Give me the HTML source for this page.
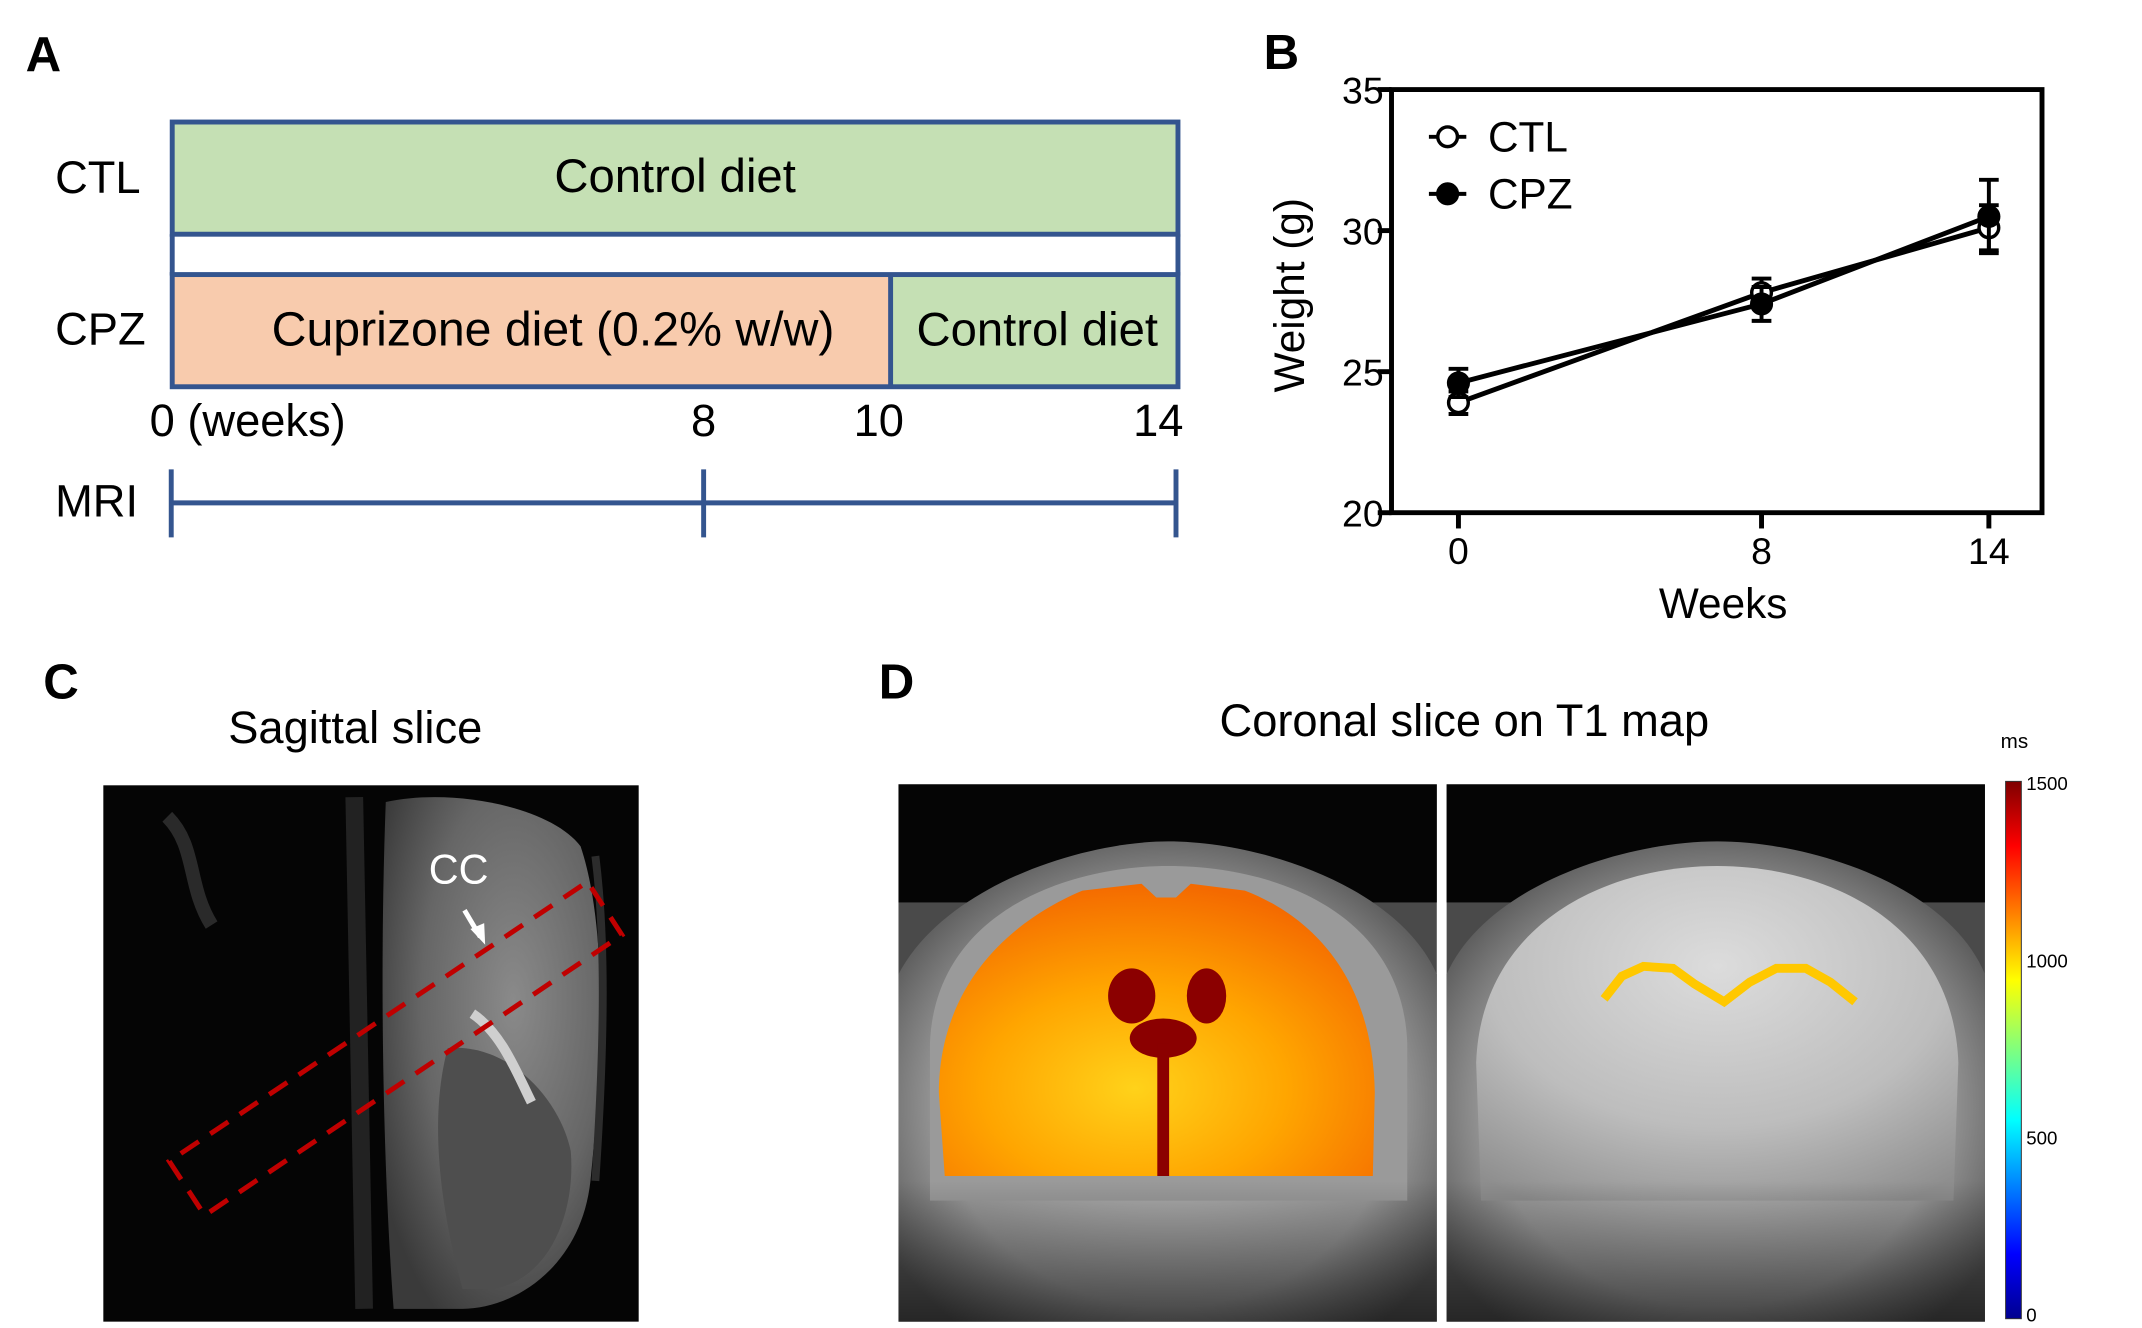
<!DOCTYPE html>
<html><head><meta charset="utf-8"><style>
html,body{margin:0;padding:0;background:#fff;}
#root{position:relative;width:2142px;height:1328px;overflow:hidden;font-family:"Liberation Sans",Arial,sans-serif;}
svg text{font-family:"Liberation Sans",Arial,sans-serif;}
</style></head><body>
<div id="root">
<svg width="2142" height="1328" viewBox="0 0 2142 1328" xmlns="http://www.w3.org/2000/svg">
<defs>
<linearGradient id="jet" x1="0" y1="1" x2="0" y2="0">
<stop offset="0" stop-color="#00008f"/><stop offset="0.12" stop-color="#0000ff"/><stop offset="0.37" stop-color="#00ffff"/><stop offset="0.5" stop-color="#7fff7f"/><stop offset="0.63" stop-color="#ffff00"/><stop offset="0.88" stop-color="#ff0000"/><stop offset="1" stop-color="#7f0000"/>
</linearGradient>
<radialGradient id="sagBrain" cx="0.6" cy="0.4" r="0.7"><stop offset="0" stop-color="#8a8a8a"/><stop offset="0.6" stop-color="#666"/><stop offset="1" stop-color="#3a3a3a"/></radialGradient>
<radialGradient id="corHead" cx="0.5" cy="0.55" r="0.6"><stop offset="0" stop-color="#b8b8b8"/><stop offset="0.7" stop-color="#999"/><stop offset="1" stop-color="#555"/></radialGradient>
<radialGradient id="corBrain" cx="0.5" cy="0.3" r="0.8"><stop offset="0" stop-color="#dcdcdc"/><stop offset="0.6" stop-color="#bdbdbd"/><stop offset="1" stop-color="#8e8e8e"/></radialGradient>
<radialGradient id="orangeMap" cx="0.45" cy="0.7" r="0.7"><stop offset="0" stop-color="#ffd21a"/><stop offset="0.5" stop-color="#ffa500"/><stop offset="1" stop-color="#f46a00"/></radialGradient>
<linearGradient id="lowerDark" x1="0" y1="0" x2="0" y2="1"><stop offset="0" stop-color="#000" stop-opacity="0"/><stop offset="1" stop-color="#000" stop-opacity="0.55"/></linearGradient>
</defs>
<g transform="scale(0.9841)">

<!-- Panel A -->
<text x="26" y="72" font-size="50" font-weight="bold">A</text>
<g>
<rect x="175" y="124" width="1022" height="114" fill="#c5e0b4" stroke="#34558f" stroke-width="5"/>
<line x1="175" y1="238" x2="175" y2="280" stroke="#34558f" stroke-width="5"/>
<line x1="1197" y1="238" x2="1197" y2="280" stroke="#34558f" stroke-width="5"/>
<rect x="175" y="279" width="729" height="114" fill="#f8cbad"/>
<rect x="904" y="279" width="293" height="114" fill="#c5e0b4"/>
<rect x="175" y="279" width="1022" height="114" fill="none" stroke="#34558f" stroke-width="5"/>
<line x1="905" y1="279" x2="905" y2="393" stroke="#34558f" stroke-width="5"/>
<text x="686" y="195" font-size="48" text-anchor="middle">Control diet</text>
<text x="56" y="196" font-size="46">CTL</text>
<text x="56" y="350" font-size="46">CPZ</text>
<text x="562" y="351" font-size="49" text-anchor="middle">Cuprizone diet (0.2% w/w)</text>
<text x="1054" y="351" font-size="48" text-anchor="middle">Control diet</text>
<text x="152" y="443" font-size="46">0 (weeks)</text>
<text x="715" y="443" font-size="46" text-anchor="middle">8</text>
<text x="893" y="443" font-size="46" text-anchor="middle">10</text>
<text x="1177" y="443" font-size="46" text-anchor="middle">14</text>
<text x="56" y="525" font-size="46">MRI</text>
<g stroke="#34558f" stroke-width="5">
<line x1="174" y1="511" x2="1197" y2="511"/>
<line x1="174" y1="477" x2="174" y2="546"/>
<line x1="715" y1="477" x2="715" y2="546"/>
<line x1="1195" y1="477" x2="1195" y2="546"/>
</g>
</g>

<!-- Panel B -->
<text x="1284" y="70" font-size="50" font-weight="bold">B</text>
<g id="chartB"></g>

<!-- Panel C -->
<text x="44" y="710" font-size="50" font-weight="bold">C</text>
<text x="361" y="755" font-size="46" text-anchor="middle">Sagittal slice</text>
<g>
<rect x="105" y="798" width="544" height="545" fill="#050505"/>
<path d="M170 830 C200 860 190 900 215 940" stroke="#2a2a2a" stroke-width="14" fill="none"/>
<path d="M360 810 L370 1330" stroke="#222" stroke-width="18" fill="none"/>
<path d="M392 815 C460 800 560 820 590 860 C620 950 610 1100 600 1200 C590 1290 520 1330 470 1330 L400 1330 C390 1200 385 1000 392 815Z" fill="url(#sagBrain)"/>
<path d="M455 1065 C520 1060 570 1120 580 1170 C585 1230 560 1300 500 1310 L470 1310 C440 1200 440 1120 455 1065Z" fill="#4e4e4e"/>
<path d="M480 1030 C510 1050 525 1090 540 1120" stroke="#cfcfcf" stroke-width="10" fill="none"/>
<path d="M605 870 C615 950 615 1050 605 1200" stroke="#2c2c2c" stroke-width="8" fill="none"/>
<polygon points="172,1180 208,1235 632,950 597,896" fill="none" stroke="#c00000" stroke-width="5" stroke-dasharray="22,14"/>
<text x="466" y="898" font-size="42" fill="#fff" text-anchor="middle">CC</text>
<line x1="472" y1="925" x2="488" y2="952" stroke="#fff" stroke-width="5"/>
<polygon points="493,960 478,944 492,938" fill="#fff"/>
</g>

<!-- Panel D -->
<text x="893" y="710" font-size="50" font-weight="bold">D</text>
<text x="1488" y="748" font-size="46" text-anchor="middle">Coronal slice on T1 map</text>
<text x="2047" y="760" font-size="21" text-anchor="middle">ms</text>
<g>
<rect x="913" y="797" width="547" height="546" fill="#4a4a4a"/>
<rect x="913" y="797" width="547" height="120" fill="#050505"/>
<path d="M913 990 C960 900 1100 855 1187 855 C1280 855 1420 900 1460 990 L1460 1343 L913 1343Z" fill="url(#corHead)"/>
<path d="M945 1060 C950 930 1080 880 1187 880 C1300 880 1425 930 1430 1060 L1430 1220 L945 1220Z" fill="#9a9a9a"/>
<rect x="913" y="1200" width="547" height="143" fill="url(#lowerDark)"/>
<path d="M954 1110 C955 990 1040 930 1100 905 L1160 898 L1175 912 L1195 912 L1210 898 L1265 905 C1330 930 1395 990 1397 1110 L1395 1195 L960 1195Z" fill="url(#orangeMap)"/>
<ellipse cx="1150" cy="1012" rx="24" ry="28" fill="#8b0000"/>
<ellipse cx="1226" cy="1012" rx="20" ry="28" fill="#8b0000"/>
<ellipse cx="1182" cy="1055" rx="34" ry="20" fill="#8b0000"/>
<rect x="1176" y="1060" width="12" height="135" fill="#8b0000"/>
</g>
<g>
<rect x="1470" y="797" width="547" height="546" fill="#4a4a4a"/>
<rect x="1470" y="797" width="547" height="120" fill="#050505"/>
<path d="M1470 990 C1510 900 1650 855 1745 855 C1840 855 1980 900 2017 990 L2017 1343 L1470 1343Z" fill="url(#corHead)"/>
<path d="M1500 1080 C1505 940 1630 880 1745 880 C1860 880 1985 940 1990 1080 L1985 1220 L1505 1220Z" fill="url(#corBrain)"/>
<rect x="1470" y="1200" width="547" height="143" fill="url(#lowerDark)"/>
<polyline points="1630,1015 1648,992 1670,982 1700,984 1722,1000 1752,1018 1778,998 1805,984 1835,984 1860,998 1885,1018" fill="none" stroke="#ffc800" stroke-width="9"/>
</g>
<g>
<rect x="2038" y="794" width="16" height="546" fill="url(#jet)" stroke="#333" stroke-width="1"/>
<text x="2059" y="803" font-size="19">1500</text>
<text x="2059" y="983" font-size="19">1000</text>
<text x="2059" y="1163" font-size="19">500</text>
<text x="2059" y="1343" font-size="19">0</text>
</g>
</g>
</svg>
</div>
<script>
const weeks = [0, 8, 14];
const ctlMean = [23.9, 27.8, 30.1];
const ctlErr = [0.4, 0.5, 0.8];
const cpzMean = [24.6, 27.4, 30.5];
const cpzErr = [0.5, 0.6, 1.3];
const yTicks = [20, 25, 30, 35];
const xTicks = [0, 8, 14];

(function(){
  const NS = 'http://www.w3.org/2000/svg';
  const g = document.getElementById('chartB');
  const L = 1414, R = 2075, T = 91, B = 521;
  const xs = v => 1482 + (v - 0) * (2021 - 1482) / 14;
  const ys = v => B - (v - 20) * (B - T) / 15;
  function mk(tag, attrs, parent){
    const e = document.createElementNS(NS, tag);
    for (const k in attrs) e.setAttribute(k, attrs[k]);
    (parent || g).appendChild(e);
    return e;
  }
  const frame = mk('path', {d:`M${L} ${T} H${R} V${B} H${L} Z`, fill:'none', stroke:'#000', 'stroke-width':5});
  
  
  yTicks.forEach(v => {
    mk('line', {x1:L-14, x2:L, y1:ys(v), y2:ys(v), stroke:'#000', 'stroke-width':5});
    const t = mk('text', {x:L-8, y:ys(v)+14, 'font-size':38, 'text-anchor':'end'});
    t.textContent = v;
    
    
  });
  xTicks.forEach(v => {
    mk('line', {x1:xs(v), x2:xs(v), y1:B, y2:B+16, stroke:'#000', 'stroke-width':5});
    const t = mk('text', {x:xs(v), y:B+52, 'font-size':38, 'text-anchor':'middle'});
    t.textContent = v;
    
    
  });
  const xt = mk('text', {x:1751, y:628, 'font-size':43, 'text-anchor':'middle'});
  xt.textContent = 'Weeks';
  
  
  const yt = mk('text', {x:0, y:0, 'font-size':43, 'text-anchor':'middle', transform:'translate(1325,300) rotate(-90)'});
  yt.textContent = 'Weight (g)';
  
  

  function series(mean, err, filled, name){
    const sg = mk('g', {});
    
    
    mk('polyline', {points: weeks.map((w,i)=>xs(w)+','+ys(mean[i])).join(' '), fill:'none', stroke:'#000', 'stroke-width':5}, sg);
    weeks.forEach((w,i) => {
      const x = xs(w), y1 = ys(mean[i]+err[i]), y2 = ys(mean[i]-err[i]);
      mk('line', {x1:x, x2:x, y1:y1, y2:y2, stroke:'#000', 'stroke-width':4}, sg);
      mk('line', {x1:x-10, x2:x+10, y1:y1, y2:y1, stroke:'#000', 'stroke-width':4}, sg);
      mk('line', {x1:x-10, x2:x+10, y1:y2, y2:y2, stroke:'#000', 'stroke-width':4}, sg);
      const c = mk('circle', {cx:x, cy:ys(mean[i]), r:10, fill: filled ? '#000' : '#fff', stroke:'#000', 'stroke-width':3.5}, sg);
      
      
    });
  }
  series(ctlMean, ctlErr, false, 'ctl');
  series(cpzMean, cpzErr, true, 'cpz');

  [['CTL', false, 139], ['CPZ', true, 197]].forEach(([lab, filled, y]) => {
    const lg = mk('g', {});
    
    
    mk('line', {x1:1452, x2:1490, y1:y, y2:y, stroke:'#000', 'stroke-width':4}, lg);
    mk('circle', {cx:1471, cy:y, r:10, fill: filled ? '#000' : '#fff', stroke:'#000', 'stroke-width':3.5}, lg);
    const t = mk('text', {x:1512, y:y+15, 'font-size':43}, lg);
    t.textContent = lab;
  });
})();
</script>
</body></html>
